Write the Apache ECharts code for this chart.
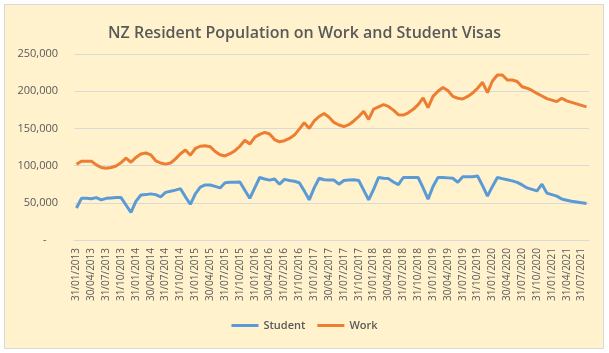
<!DOCTYPE html>
<html>
<head>
<meta charset="utf-8">
<title>NZ Resident Population on Work and Student Visas</title>
<script src="https://cdn.jsdelivr.net/npm/echarts@6/dist/echarts.min.js"></script>
<style>
  html, body { margin: 0; padding: 0; background: #fff; }
  #frame { position: absolute; left: 4px; top: 4px; width: 598px; height: 343px;
           background: #FFF2CC; border: 1px solid #D9D9D9; }
  #main { position: absolute; left: 0; top: 0; width: 609px; height: 353px; }
</style>
</head>
<body>
<div id="frame"></div>
<div id="main"></div>
<script>
// month-end labels, 31/01/2013 .. 31/08/2021
var monthEnd = ['31', '28', '31', '30', '31', '30', '31', '31', '30', '31', '30', '31'];
var months = [];
for (var y = 2013; y <= 2021; y++) {
    for (var m = 0; m < 12; m++) {
        if (y == 2021 && m > 7) break;
        var d = monthEnd[m];
        if (m == 1 && y % 4 == 0) d = '29';
        months.push(d + '/' + (m < 9 ? '0' : '') + (m + 1) + '/' + y);
    }
}
months[99] = '31/04/2021'; // as labelled in the source sheet

var student = [
    43000, 56000, 56000, 55500, 57000, 54000, 56000, 56500, 57000, 57000,
    47000, 37000, 52000, 60500, 61000, 62000, 61000, 58000, 64000, 65500,
    67000, 69000, 58000, 48000, 62000, 71000, 74000, 74000, 72000, 70000,
    77000, 77500, 77500, 78000, 67000, 56000, 70000, 84000, 82000, 80500,
    82000, 75000, 81500, 80000, 79000, 77000, 66000, 54000, 70000, 83000,
    81000, 80500, 80500, 75000, 80000, 80500, 81000, 80000, 67000, 54000,
    68000, 84000, 83000, 82500, 78000, 74500, 84000, 84000, 84000, 84000,
    70000, 55000, 72000, 84000, 84000, 83500, 83000, 77500, 85000, 85000,
    85000, 86000, 73000, 59000, 72000, 84000, 82500, 81000, 79500, 77500,
    74000, 70000, 68000, 66000, 75000, 63000, 61000, 59000, 55000, 53500,
    52000, 51000, 50000, 49000
];

var work = [
    101700, 106000, 106000, 106000, 101000, 97500, 96500, 97500, 99500, 104000,
    110000, 104500, 111000, 115500, 117000, 114500, 106500, 103500, 102000, 103500,
    109000, 116000, 121000, 114000, 123000, 126000, 126700, 125400, 119000, 114500,
    113000, 116000, 120000, 126000, 134000, 129000, 138000, 142000, 144700, 142500,
    135000, 132000, 133500, 136500, 141000, 149000, 157700, 150000, 160000, 166000,
    170000, 165000, 158000, 154600, 152500, 155000, 160000, 166000, 173000, 162000,
    176000, 179000, 182000, 179500, 174500, 168500, 168000, 171000, 175600, 182000,
    191000, 178000, 193000, 200000, 205000, 201000, 193000, 190500, 189500, 193000,
    197500, 204000, 212000, 198000, 213700, 221800, 221800, 215000, 215000, 213000,
    206000, 204000, 201000, 197000, 193500, 190000, 188000, 186000, 190500, 187000,
    185000, 183000, 181000, 179000
];

var yTicks = [0, 50000, 100000, 150000, 200000, 250000];

var textColor = '#595959';
var myChart = echarts.init(document.getElementById('main'));

option = {
    backgroundColor: 'transparent',
    animation: false,
    title: {
        text: 'NZ Resident Population on Work and Student Visas',
        left: 'center',
        top: 20,
        textStyle: {
            color: textColor,
            fontFamily: 'Open Sans',
            fontWeight: 600,
            fontSize: 16
        }
    },
    legend: {
        data: ['Student', 'Work'],
        bottom: 17,
        left: 'center',
        icon: 'rect',
        itemWidth: 27,
        itemHeight: 3,
        itemGap: 12,
        textStyle: { color: textColor, fontSize: 11, fontWeight: 600, fontFamily: 'Open Sans' }
    },
    grid: {
        left: 74,
        right: 20,
        top: 54,
        bottom: 113
    },
    xAxis: {
        type: 'category',
        boundaryGap: true,
        data: months,
        axisLine: { lineStyle: { color: '#D9D9D9' } },
        axisTick: { show: false },
        axisLabel: {
            interval: 2,
            rotate: 90,
            margin: 8,
            color: textColor,
            fontSize: 10,
            fontFamily: 'Open Sans'
        }
    },
    yAxis: {
        type: 'value',
        min: yTicks[0],
        max: yTicks[yTicks.length - 1],
        interval: yTicks[1] - yTicks[0],
        axisLine: { show: false },
        axisTick: { show: false },
        splitLine: { lineStyle: { color: '#D9D9D9' } },
        axisLabel: {
            margin: 16,
            color: textColor,
            fontSize: 11,
            fontFamily: 'Open Sans',
            formatter: function (v) {
                if (v == 0) return '-    ';
                return v.toString().replace(/\B(?=(\d{3})+(?!\d))/g, ',');
            }
        }
    },
    series: [
        {
            name: 'Student',
            type: 'line',
            symbol: 'none',
            data: student,
            itemStyle: { color: '#5B9BD5' },
            lineStyle: { color: '#5B9BD5', width: 3 }
        },
        {
            name: 'Work',
            type: 'line',
            symbol: 'none',
            data: work,
            itemStyle: { color: '#ED7D31' },
            lineStyle: { color: '#ED7D31', width: 3 }
        }
    ]
};

myChart.setOption(option);
</script>
</body>
</html>
